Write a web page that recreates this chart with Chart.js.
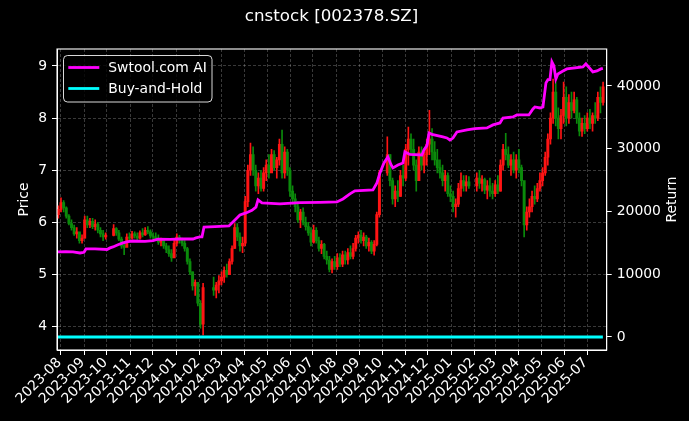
<!DOCTYPE html>
<html><head><meta charset="utf-8">
<script src="https://cdn.jsdelivr.net/npm/chart.js@4.4.1/dist/chart.umd.min.js"></script>
<style>html,body{margin:0;padding:0;background:#000;overflow:hidden}#wrap{width:689px;height:421px;position:relative}</style>
</head><body><div id="wrap"><canvas id="c" width="689" height="421"></canvas></div>
<script>
// ---------------- data ----------------
const TITLE = 'cnstock [002378.SZ]';
const monthTicks = ['2023-08','2023-09','2023-10','2023-11','2023-12','2024-01','2024-02','2024-03','2024-04','2024-05','2024-06','2024-07','2024-08','2024-09','2024-10','2024-11','2024-12','2025-01','2025-02','2025-03','2025-04','2025-05','2025-06','2025-07'];
const priceTicks = [4,5,6,7,8,9];
const returnTicks = [0,10000,20000,30000,40000];

// candles: one every 3.5 days, first one 3.5 days before 2023-08-01; null = market closed
const firstSlotDay = -3.5;
const slotStepDays = 3.5;
const firstOpen = 6.15;
const closes = [
 6.25,6.38,6.28,6.12,5.98,5.90,5.78,5.82,5.65,5.70,
 6.05,5.95,6.02,5.92,5.97,5.85,5.78,5.72,5.75,null,
 null,5.88,5.80,5.68,5.55,5.52,5.72,5.70,5.78,5.74,
 5.70,5.80,5.76,5.85,5.82,5.74,5.72,5.68,5.62,5.65,
 5.55,5.48,5.40,5.32,5.60,5.72,5.66,5.60,5.50,5.25,
 5.05,4.78,4.85,4.45,4.05,4.75,null,null,null,4.70,
 4.80,4.88,4.95,5.08,5.00,5.25,5.50,5.90,5.72,5.55,
 5.60,6.40,7.00,7.30,7.00,6.70,6.85,6.65,6.95,7.10,
 6.95,7.30,7.05,7.20,7.50,6.95,7.35,7.00,6.60,6.45,
 6.30,6.05,6.20,6.00,5.92,5.80,5.62,5.85,5.65,5.50,
 5.58,5.35,5.28,5.10,5.25,5.15,5.32,5.20,5.38,5.28,
 5.42,5.35,5.50,5.70,5.75,5.65,5.72,5.55,5.62,5.45,
 5.58,6.15,6.95,null,null,7.30,6.80,6.45,6.60,6.50,
 6.90,6.85,7.40,7.60,7.40,7.10,6.80,7.35,7.10,7.30,
 7.50,7.60,7.35,7.20,7.05,6.95,6.80,6.90,6.55,6.50,
 6.30,6.35,6.65,6.80,6.70,6.78,6.70,null,null,6.85,
 6.75,6.82,6.62,6.70,6.60,6.55,6.72,6.60,7.10,7.40,
 7.30,7.10,7.20,7.00,7.20,7.05,6.80,5.95,6.20,6.30,
 6.50,6.45,6.65,6.80,6.95,7.25,7.60,8.00,8.50,8.00,
 7.80,8.05,8.40,8.00,8.30,8.15,8.35,8.00,7.75,7.90,
 7.80,8.00,7.90,8.05,8.00,8.40,8.30,8.60];
const highs = [
 6.32,6.47,6.42,6.30,6.15,6.05,5.95,5.90,5.80,5.76,
 6.12,6.12,6.08,6.08,6.05,6.00,5.90,5.85,5.80,null,
 null,5.96,5.90,5.85,5.72,5.62,5.78,5.80,5.83,5.82,
 5.80,5.84,5.88,5.90,5.92,5.86,5.80,5.80,5.76,5.70,
 5.68,5.60,5.55,5.48,5.65,5.78,5.75,5.70,5.65,5.52,
 5.30,5.05,4.90,4.85,4.50,4.83,null,null,null,4.95,
 4.85,4.98,5.05,5.15,5.20,5.30,5.55,5.98,5.98,5.80,
 5.72,6.50,7.10,7.52,7.45,7.10,6.95,7.00,7.05,7.20,
 7.30,7.40,7.38,7.25,7.60,7.77,7.45,7.40,7.05,6.70,
 6.55,6.40,6.25,6.28,6.10,6.00,5.90,5.95,5.90,5.72,
 5.65,5.60,5.45,5.35,5.30,5.35,5.40,5.40,5.45,5.45,
 5.50,5.55,5.60,5.75,5.82,5.85,5.80,5.75,5.70,5.65,
 5.65,6.20,7.00,null,null,7.64,7.30,6.85,6.70,6.80,
 7.00,7.10,7.50,7.83,7.70,7.60,7.20,7.45,7.45,7.35,
 7.60,8.15,7.80,7.55,7.40,7.20,7.10,7.00,6.95,6.70,
 6.60,6.45,6.75,6.95,6.90,6.90,6.88,null,null,6.95,
 7.00,6.90,6.85,6.80,6.85,6.75,6.80,6.90,7.20,7.50,
 7.71,7.45,7.30,7.35,7.30,7.40,7.10,6.75,6.30,6.45,
 6.60,6.70,6.75,6.95,7.05,7.35,7.70,8.10,8.75,8.69,
 8.20,8.17,8.69,8.60,8.45,8.50,8.50,8.40,8.10,8.00,
 8.05,8.10,8.17,8.10,8.30,8.50,8.60,8.69];
const lows = [
 6.08,6.20,6.20,6.08,5.95,5.85,5.75,5.70,5.60,5.60,
 5.70,5.90,5.90,5.88,5.85,5.80,5.72,5.65,5.68,null,
 null,5.74,5.75,5.65,5.50,5.38,5.55,5.65,5.68,5.70,
 5.66,5.68,5.72,5.75,5.78,5.70,5.66,5.65,5.58,5.55,
 5.50,5.42,5.35,5.25,5.35,5.55,5.60,5.55,5.45,5.20,
 5.00,4.70,4.60,4.40,3.97,3.84,null,null,null,4.60,
 4.55,4.65,4.80,4.85,4.95,5.00,5.20,5.50,5.65,5.45,
 5.42,5.55,6.30,6.90,6.90,6.60,6.55,6.60,6.60,6.80,
 6.85,7.00,7.00,6.85,7.10,6.85,6.85,6.90,6.50,6.35,
 6.20,6.00,5.90,5.95,5.85,5.75,5.55,5.60,5.60,5.45,
 5.40,5.30,5.20,5.05,5.03,5.10,5.10,5.15,5.15,5.20,
 5.20,5.30,5.30,5.45,5.60,5.60,5.55,5.50,5.45,5.40,
 5.37,5.55,6.10,null,null,6.90,6.70,6.35,6.30,6.40,
 6.50,6.70,6.80,7.10,7.30,7.00,6.60,6.90,7.00,6.95,
 7.10,7.30,7.20,7.10,6.95,6.85,6.70,6.60,6.50,6.40,
 6.20,6.10,6.30,6.50,6.60,6.60,6.65,null,null,6.60,
 6.65,6.60,6.55,6.45,6.50,6.45,6.50,6.55,6.60,7.00,
 7.20,7.05,6.90,6.95,6.85,6.95,6.70,5.72,5.85,6.10,
 6.20,6.35,6.40,6.60,6.70,6.90,7.10,7.50,7.90,7.85,
 7.60,7.60,7.90,7.85,7.90,8.00,8.10,7.90,7.66,7.65,
 7.70,7.75,7.80,7.75,7.90,7.95,8.10,8.25];

// strategy equity (right axis): day offsets from 2023-08-01 and values
const aiDays = [-4,6.6,16,25.3,30.6,33.2,45.2,61.2,65.2,69.1,75.8,82.4,89.1,95.7,111.7,122.3,129,145,158.2,175.5,179.5,184.8,187.5,190.2,204.8,223.4,228.7,238,246,254,259.3,262,267.3,291.2,317.8,344.4,367,375,384.3,390.9,414.9,420.2,424.2,429.5,434.8,438.8,441.5,448.1,454.8,457.4,464.1,480.1,482.7,486.7,489.4,493.4,508,513.3,517.3,521.3,526.6,539.9,550.5,566.5,574.5,583.8,587.8,601.1,606.4,622.3,627.7,630.3,637,641,645,647.6,650.3,652.9,655.6,658.2,660.9,667.6,672.9,694.1,698.1,707.4,712.8,718.1,720.7];
const aiValues = [13550,13600,13550,13390,13500,14030,14030,13950,14200,14350,14700,15000,15200,15300,15250,15350,15600,15550,15620,15620,15800,15940,15940,17530,17600,17700,18330,19450,19770,20200,20700,21840,21360,21200,21400,21450,21520,22000,22800,23300,23430,24550,26140,27740,28700,27500,26940,27400,27740,29500,29100,29010,29810,30500,32520,32300,31880,31720,31400,31700,32680,33000,33200,33320,33800,34110,34900,35070,35390,35390,36340,36660,36500,36660,40500,41000,41000,43840,43200,41130,41920,42400,42720,43040,43520,42240,42400,42720,42800];
const holdDays = [-4,90,180,270,360,450,540,630,720.7];
const holdValues = [1.00,0.93,0.90,1.12,0.85,1.05,1.08,1.10,1.38];

// ---------------- build ----------------
const DAY0 = Date.UTC(2023,7,1);
const monthDays = monthTicks.map(m => { const [y, mo] = m.split('-').map(Number); return (Date.UTC(y, mo-1, 1) - DAY0) / 86400000; });
const UP = '#ff1414', DOWN = '#0b8a0b';
const bodies = [], wicks = [], cColors = [];
let prev = firstOpen;
closes.forEach((c, i) => {
  if (c === null) return;
  const x = firstSlotDay + slotStepDays * i;
  bodies.push({x, y: [prev, c]});
  wicks.push({x, y: [lows[i], highs[i]]});
  cColors.push(c >= prev ? UP : DOWN);
  prev = c;
});
const aiData = aiDays.map((d, i) => ({x: d, y: aiValues[i]}));
const holdData = holdDays.map((d, i) => ({x: d, y: holdValues[i]}));

const FONT = "'DejaVu Sans', sans-serif";
Chart.defaults.font.family = FONT;
Chart.defaults.font.size = 13.9;
Chart.defaults.color = '#ffffff';

const bgPlugin = { id: 'bg', beforeDraw(chart) { const c = chart.ctx; c.save(); c.fillStyle = '#000'; c.fillRect(0, 0, chart.width, chart.height); c.restore(); } };
const decoPlugin = {
  id: 'deco',
  afterDraw(chart) {
    const c = chart.ctx; const a = chart.chartArea;
    c.save();
    // frame
    c.strokeStyle = '#fff'; c.lineWidth = 1.1;
    c.strokeRect(a.left, a.top, a.right - a.left, a.bottom - a.top);
    // title
    c.fillStyle = '#fff'; c.font = "16.7px " + FONT; c.textAlign = 'center'; c.textBaseline = 'middle';
    c.fillText(TITLE, 331.5, 17);
    // x tick labels, rotated 45 deg, right end at the tick
    const xs = chart.scales.x;
    c.font = "13.9px " + FONT; c.textAlign = 'right'; c.textBaseline = 'middle';
    monthTicks.forEach((lab, i) => {
      const px = xs.getPixelForValue(monthDays[i]);
      c.save(); c.translate(px - 1.5, 360.5); c.rotate(-Math.PI / 4);
      c.fillText(lab, 0, 0); c.restore();
    });
    // right axis title
    c.save(); c.translate(672, (a.top + a.bottom) / 2); c.rotate(-Math.PI / 2);
    c.textAlign = 'center'; c.fillText('Return', 0, 0); c.restore();
    // legend
    const bx = 63.5, by = 55.5, bw = 148.5, bh = 46.5, r = 4;
    c.beginPath();
    c.moveTo(bx + r, by); c.lineTo(bx + bw - r, by); c.quadraticCurveTo(bx + bw, by, bx + bw, by + r);
    c.lineTo(bx + bw, by + bh - r); c.quadraticCurveTo(bx + bw, by + bh, bx + bw - r, by + bh);
    c.lineTo(bx + r, by + bh); c.quadraticCurveTo(bx, by + bh, bx, by + bh - r);
    c.lineTo(bx, by + r); c.quadraticCurveTo(bx, by, bx + r, by); c.closePath();
    c.fillStyle = 'rgba(0,0,0,0.8)'; c.fill();
    c.strokeStyle = 'rgba(255,255,255,0.85)'; c.lineWidth = 1; c.stroke();
    const items = [chart.data.datasets[0], chart.data.datasets[1]];
    const ys = [67.5, 88.5];
    items.forEach((ds, k) => {
      c.strokeStyle = ds.borderColor; c.lineWidth = ds.borderWidth;
      c.beginPath(); c.moveTo(68.3, ys[k]); c.lineTo(99.3, ys[k]); c.stroke();
      c.fillStyle = '#fff'; c.font = "13.9px " + FONT; c.textAlign = 'left'; c.textBaseline = 'middle';
      c.fillText(ds.label, 108.3, ys[k] + 0.5);
    });
    c.restore();
  }
};

const gridColor = 'rgba(255,255,255,0.32)';
new Chart(document.getElementById('c'), {
  type: 'line',
  data: {
    datasets: [
      { label: 'Swtool.com AI', type: 'line', data: aiData, yAxisID: 'yR', borderColor: '#ff00ff', borderWidth: 2.8, pointRadius: 0, tension: 0, order: 0 },
      { label: 'Buy-and-Hold', type: 'line', data: holdData, yAxisID: 'yR', borderColor: '#00ffff', borderWidth: 2.8, pointRadius: 0, tension: 0, order: 1 },
      { label: 'body', type: 'bar', data: bodies, yAxisID: 'yP', backgroundColor: cColors, borderWidth: 0, barThickness: 2.3, grouped: false, minBarLength: 1, order: 2 },
      { label: 'wick', type: 'bar', data: wicks, yAxisID: 'yP', backgroundColor: cColors, borderWidth: 0, barThickness: 1, grouped: false, order: 3 }
    ]
  },
  options: {
    responsive: false, animation: false, devicePixelRatio: 1,
    layout: { padding: { left: 0, right: 0, top: 49, bottom: 0 } },
    plugins: { legend: { display: false }, tooltip: { enabled: false }, title: { display: false } },
    scales: {
      x: {
        type: 'linear', position: 'bottom', min: -5.32, max: 725.8, offset: false,
        afterBuildTicks: s => { s.ticks = monthDays.map(v => ({value: v})); },
        afterFit: s => { s.height = 71; },
        ticks: { display: false, autoSkip: false, callback: (v, i) => monthTicks[i] },
        grid: { color: gridColor, lineWidth: 0.7, tickColor: '#fff', tickLength: 5, tickWidth: 1, offset: false },
        border: { color: '#fff', width: 1, dash: [3, 2] }
      },
      yP: {
        type: 'linear', position: 'left', min: 3.553, max: 9.326,
        afterBuildTicks: s => { s.ticks = priceTicks.map(v => ({value: v})); },
        afterFit: s => { s.width = 57; },
        ticks: { padding: 5, color: '#fff', callback: v => String(v) },
        grid: { color: gridColor, lineWidth: 0.7, tickColor: '#fff', tickLength: 5, tickWidth: 1 },
        border: { color: '#fff', width: 1, dash: [3, 2] },
        title: { display: true, text: 'Price', color: '#fff', padding: { top: 16.5, bottom: 0 } }
      },
      yR: {
        type: 'linear', position: 'right', min: -2072, max: 45896,
        afterBuildTicks: s => { s.ticks = returnTicks.map(v => ({value: v})); },
        afterFit: s => { s.width = 82.3; },
        ticks: { padding: 5, color: '#fff', callback: v => String(v) },
        grid: { drawOnChartArea: false, tickColor: '#fff', tickLength: 5, tickWidth: 1 },
        border: { color: '#fff', width: 1 }
      }
    }
  },
  plugins: [bgPlugin, decoPlugin]
});
</script></body></html>
